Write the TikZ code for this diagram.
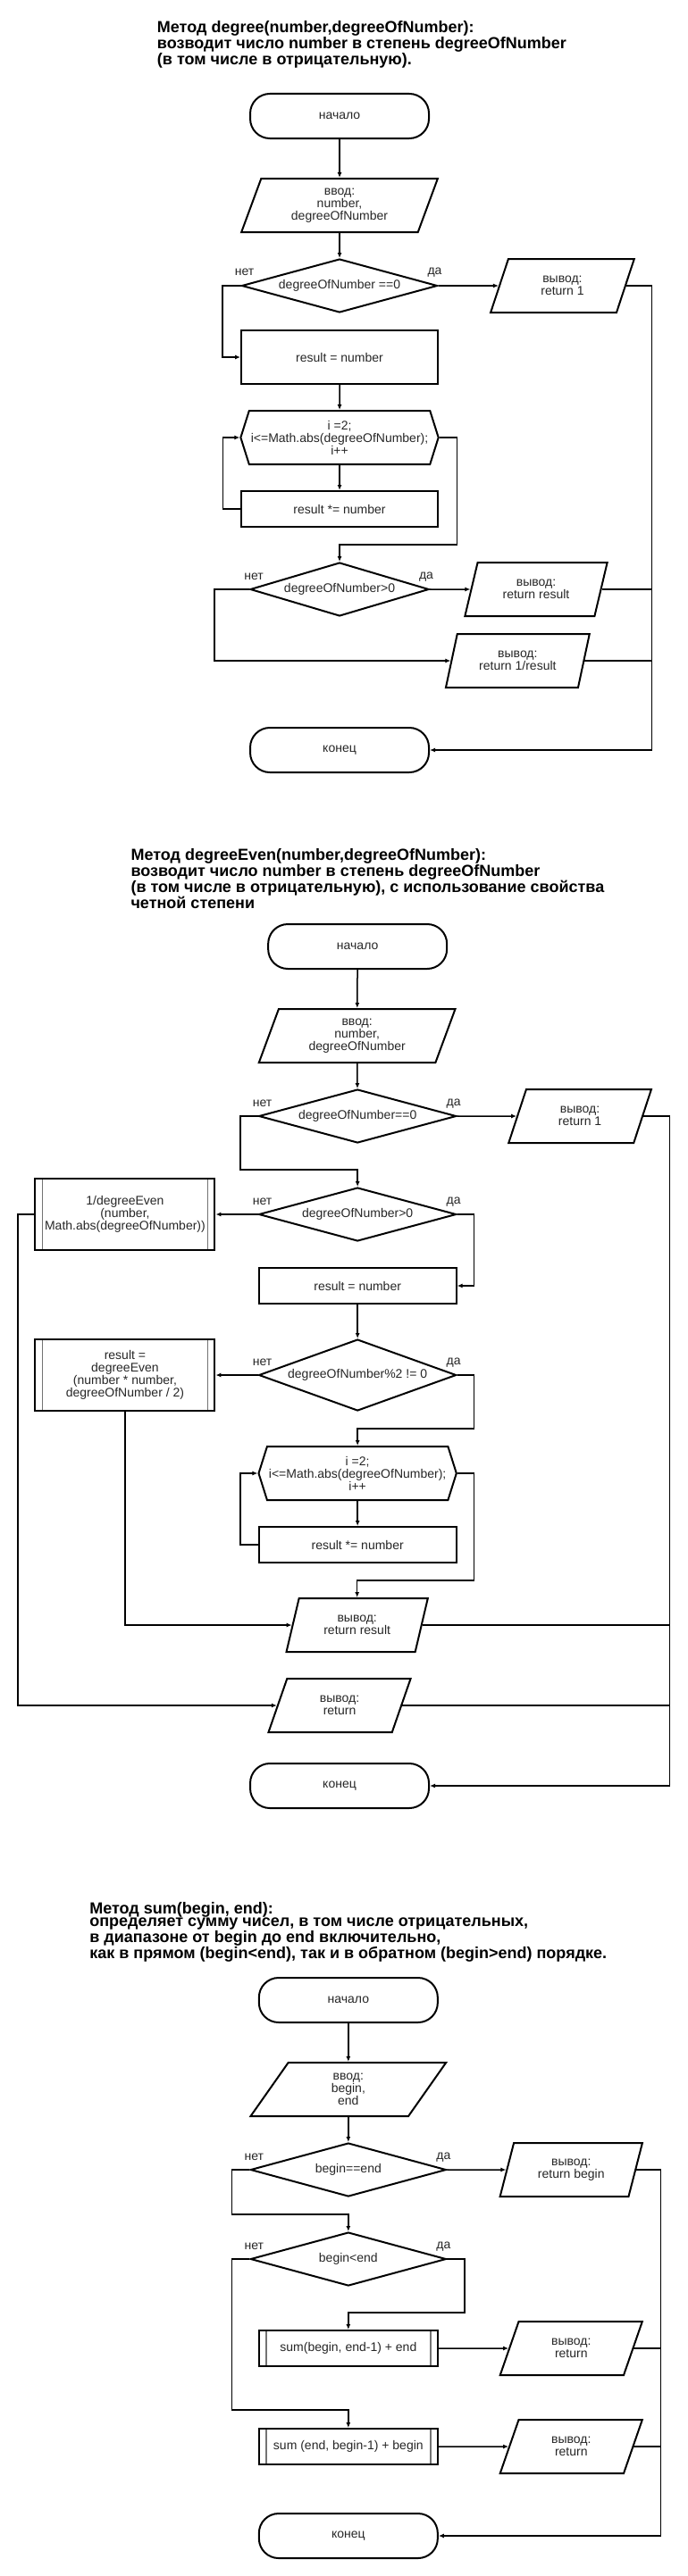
\documentclass[tikz,border=0pt]{standalone}
\usepackage{fontspec}
\setmainfont{Liberation Sans}
\usetikzlibrary{shapes.geometric,shapes.symbols,arrows.meta}

\tikzset{
	blk/.style={draw, line width=2pt, inner sep=2pt, align=center, text=black!85,
		font=\fontsize{14}{14}\selectfont},
	term/.style={blk, rectangle, rounded corners=22pt, minimum width=200pt, minimum height=50pt},
	io/.style={blk, trapezium, trapezium left angle=71.57, trapezium right angle=108.43,
		trapezium stretches=true, minimum height=60pt},
	proc/.style={blk, rectangle, minimum width=220pt, minimum height=60pt},
	cond/.style={blk, diamond, aspect=3.5, minimum width=219pt, minimum height=60pt},
	loopbox/.style={blk, signal, signal to=east and west, signal pointer angle=145,
		minimum width=220pt, minimum height=60pt},
	subproc/.style={blk, rectangle, minimum width=201pt, minimum height=80pt,
		path picture={\draw[line width=1.5pt, black!55]
			([xshift=8pt]path picture bounding box.north west) -- ([xshift=8pt]path picture bounding box.south west)
			([xshift=-8pt]path picture bounding box.north east) -- ([xshift=-8pt]path picture bounding box.south east);}},
	title/.style={anchor=north west, inner sep=0pt, align=left,
		font=\bfseries\fontsize{18}{18}\selectfont},
	yn/.style={inner sep=0pt, text=black!85, font=\fontsize{14}{14}\selectfont},
	arr/.style={line width=1.5pt, -{Latex[length=6pt,width=5pt]}},
	wire/.style={line width=1.5pt}
}

\begin{document}
\begin{tikzpicture}[x=0.982pt,y=-1pt]
	\useasboundingbox (0,0) rectangle (784.1,2885);

	% degree(number,degreeOfNumber)
	\node[title] (t1) at (179,23) {Метод degree(number,degreeOfNumber):\\возводит число number в степень degreeOfNumber\\(в том числе в отрицательную).};
	\node[term] (s1) at (387,130) {начало};
	\node[io, minimum width=220pt] (in1) at (387,230) {ввод:\\number,\\degreeOfNumber};
	\node[cond] (c1) at (387,320) {degreeOfNumber ==0};
	\node[io, minimum width=161pt] (o1) at (641,320) {вывод:\\return 1};
	\node[proc] (p1) at (387,400) {result = number};
	\node[loopbox] (l1) at (387,490) {i =2;\\i<=Math.abs(degreeOfNumber);\\i++};
	\node[proc, minimum height=40pt] (p2) at (387,570) {result *= number};
	\node[cond, minimum width=200pt] (c2) at (387,660) {degreeOfNumber>0};
	\node[io, minimum width=160pt] (o2) at (611,660) {вывод:\\return result};
	\node[io, minimum width=161pt] (o3) at (590,740) {вывод:\\return 1/result};
	\node[term] (e1) at (387,840) {конец};
	\coordinate (r1) at (743,840);

	\node[yn] at ([shift={(4pt,15pt)}]c1.west) {нет};
	\node[yn] at ([shift={(-4pt,15pt)}]c1.east) {да};
	\node[yn] at ([shift={(5pt,14pt)}]c2.west) {нет};
	\node[yn] at ([shift={(-4pt,14pt)}]c2.east) {да};

	\draw[arr] (s1) -- (in1);
	\draw[arr] (in1) -- (c1);
	\draw[arr] (c1.east) -- (o1.west);
	\draw[arr] (c1.west) -- ++(-21,0) |- (p1.west);
	\draw[arr] (p1) -- (l1);
	\draw[arr] (l1) -- (p2);
	\draw[arr] (p2.west) -- ++(-20,0) |- (l1.west);
	\draw[arr] (l1.east) -- ++(20,0) -- ++(0,120) -| (c2.north);
	\draw[arr] (c2.east) -- (o2.west);
	\draw[arr] (c2.west) -- ++(-40,0) |- (o3.west);
	\draw[arr] (o1.east) -| (r1) -- (e1.east);
	\draw[wire] (o2.east) -- (o2.east -| r1);
	\draw[wire] (o3.east) -- (o3.east -| r1);

	% degreeEven(number,degreeOfNumber)
	\node[title, font=\bfseries\fontsize{18}{14.3}\selectfont] (t2) at (149,950) {Метод degreeEven(number,degreeOfNumber):\\возводит число number в степень degreeOfNumber\\(в том числе в отрицательную), с использование свойства\\четной степени};
	\node[term] (s2) at (407.5,1060) {начало};
	\node[io, minimum width=220pt] (in2) at (407,1160) {ввод:\\number,\\degreeOfNumber};
	\node[cond, minimum width=221pt] (c3) at (407.5,1250) {degreeOfNumber==0};
	\node[io, minimum width=160pt] (o4) at (661,1250) {вывод:\\return 1};
	\node[cond, minimum width=221pt] (c4) at (407.5,1360) {degreeOfNumber>0};
	\node[subproc] (f1) at (142.5,1360) {1/degreeEven\\(number,\\Math.abs(degreeOfNumber))};
	\node[proc, minimum width=221pt, minimum height=40pt] (p3) at (407.5,1440) {result = number};
	\node[cond, minimum width=221pt, minimum height=80pt] (c5) at (407.5,1540) {degreeOfNumber\%2 != 0};
	\node[subproc] (f2) at (142.5,1540) {result =\\degreeEven\\(number * number,\\degreeOfNumber / 2)};
	\node[loopbox, minimum width=221pt] (l2) at (407.5,1650) {i =2;\\i<=Math.abs(degreeOfNumber);\\i++};
	\node[proc, minimum width=221pt, minimum height=40pt] (p4) at (407.5,1730) {result *= number};
	\node[io, minimum width=159pt] (o5) at (407,1820) {вывод:\\return result};
	\node[io, minimum width=160pt] (o6) at (387,1910) {вывод:\\return};
	\node[term] (e2) at (387,2000) {конец};
	\coordinate (r2) at (763,2000);

	\node[yn] at ([shift={(5pt,14pt)}]c3.west) {нет};
	\node[yn] at ([shift={(-4pt,14pt)}]c3.east) {да};
	\node[yn] at ([shift={(5pt,14pt)}]c4.west) {нет};
	\node[yn] at ([shift={(-4pt,14pt)}]c4.east) {да};
	\node[yn] at ([shift={(5pt,14pt)}]c5.west) {нет};
	\node[yn] at ([shift={(-4pt,14pt)}]c5.east) {да};

	\draw[arr] (s2) -- (in2);
	\draw[arr] (in2) -- (c3);
	\draw[arr] (c3.east) -- (o4.west);
	\draw[arr] (c3.west) -- ++(-20,0) -- ++(0,60) -| (c4.north);
	\draw[arr] (c4.west) -- (f1.east);
	\draw[arr] (c4.east) -- ++(19,0) |- (p3.east);
	\draw[arr] (f1.west) -- ++(-19,0) |- (o6.west);
	\draw[arr] (p3) -- (c5);
	\draw[arr] (c5.west) -- (f2.east);
	\draw[arr] (c5.east) -- ++(19,0) -- ++(0,60) -| (l2.north);
	\draw[arr] (f2.south) |- (o5.west);
	\draw[arr] (l2) -- (p4);
	\draw[arr] (p4.west) -- ++(-20,0) |- (l2.west);
	\draw[arr] (l2.east) -- ++(19,0) -- ++(0,120) -| (o5.north);
	\draw[arr] (o4.east) -| (r2) -- (e2.east);
	\draw[wire] (o5.east) -- (o5.east -| r2);
	\draw[wire] (o6.east) -- (o6.east -| r2);

	% sum(begin, end)
	\node[title, font=\bfseries\fontsize{18}{14.3}\selectfont] (t3) at (102,2130) {Метод sum(begin, end):\\определяет сумму чисел, в том числе отрицательных,\\в диапазоне от begin до end включительно,\\как в прямом (begin<end), так и в обратном (begin>end) порядке.};
	\node[term] (s3) at (397,2240) {начало};
	\node[io, minimum width=220pt] (in3) at (397,2340) {ввод:\\begin,\\end};
	\node[cond] (c6) at (397,2430) {begin==end};
	\node[io, minimum width=160pt] (o7) at (651,2430) {вывод:\\return begin};
	\node[cond] (c7) at (397,2530) {begin<end};
	\node[subproc, minimum width=200pt, minimum height=40pt] (f3) at (397,2630) {sum(begin, end-1) + end};
	\node[io, minimum width=160pt] (o8) at (651,2630) {вывод:\\return};
	\node[subproc, minimum width=200pt, minimum height=40pt] (f4) at (397,2740) {sum (end, begin-1) + begin};
	\node[io, minimum width=160pt] (o9) at (651,2740) {вывод:\\return};
	\node[term] (e3) at (397,2840) {конец};
	\coordinate (r3) at (753,2840);

	\node[yn] at ([shift={(5pt,14pt)}]c6.west) {нет};
	\node[yn] at ([shift={(-4pt,14pt)}]c6.east) {да};
	\node[yn] at ([shift={(5pt,14pt)}]c7.west) {нет};
	\node[yn] at ([shift={(-4pt,14pt)}]c7.east) {да};

	\draw[arr] (s3) -- (in3);
	\draw[arr] (in3) -- (c6);
	\draw[arr] (c6.east) -- (o7.west);
	\draw[arr] (c6.west) -- ++(-20,0) -- ++(0,50) -| (c7.north);
	\draw[arr] (c7.east) -- ++(20,0) -- ++(0,60) -| (f3.north);
	\draw[arr] (c7.west) -- ++(-20,0) -- ++(0,169) -| (f4.north);
	\draw[arr] (f3.east) -- (o8.west);
	\draw[arr] (f4.east) -- (o9.west);
	\draw[arr] (o7.east) -| (r3) -- (e3.east);
	\draw[wire] (o8.east) -- (o8.east -| r3);
	\draw[wire] (o9.east) -- (o9.east -| r3);
\end{tikzpicture}
\end{document}
